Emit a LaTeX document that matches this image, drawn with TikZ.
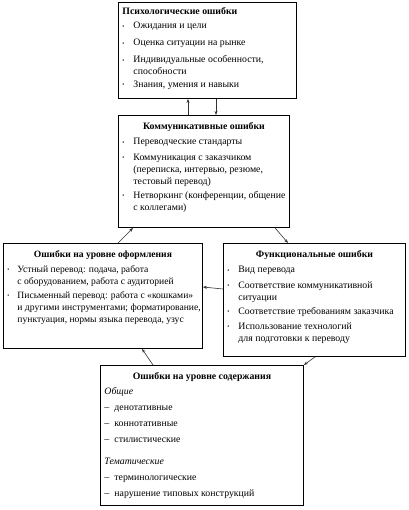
\documentclass[tikz,border=0pt]{standalone}
\usepackage{graphicx}
\usepackage{fontspec}
\setmainfont{Liberation Serif}
\usetikzlibrary{arrows.meta,calc}
\newlength\itemgap \setlength\itemgap{3.5pt}
\newlength\bulind \setlength\bulind{11pt}
\newcommand\bul[1]{\par\noindent\makebox[\bulind][l]{\raisebox{0.9pt}{\scalebox{0.6}{\textbullet}}}\parbox[t]{\dimexpr\linewidth-\bulind}{\raggedright #1}\par\vspace{\itemgap}}
\newcommand\dit[1]{\par\noindent\makebox[10pt][l]{–}#1\par\vspace{4pt}}
\newcommand\ttl[1]{\vspace*{7.5pt}{\centering\textbf{#1}\par}\vspace{3pt}}
\newcommand\mybox[6]{\node[box] (#1) at (#2pt,-#3pt) {\parbox[c][#5pt][t]{\dimexpr#4pt-8pt}{\fontsize{9.8}{12}\selectfont #6}};}
\tikzset{
  box/.style={draw, line width=0.9pt, anchor=north west, inner xsep=4pt, inner ysep=0pt, fill=white},
  arr/.style={line width=0.6pt, draw=black!80, -{Stealth[length=4pt,width=3pt]}}
}
\begin{document}
\begin{tikzpicture}[x=1pt,y=1pt]
\useasboundingbox (0,0) rectangle (408,-510);
\mybox{psych}{118}{2}{178}{96}{\setlength\itemgap{5pt}\vspace*{5.5pt}\textbf{Психологические ошибки}\par\vspace{2pt}
\bul{Ожидания и цели}
\bul{Оценка ситуации на рынке}
\bul{Индивидуальные особенности,\\ способности}
\bul{Знания, умения и навыки}}
\mybox{comm}{118}{115}{171}{112}{\ttl{Коммуникативные ошибки}
\bul{Переводческие стандарты}
\bul{Коммуникация с заказчиком\\ (переписка, интервью, резюме,\\ тестовый перевод)}
\bul{Нетворкинг (конференции, общение\\ с коллегами)}}
\mybox{form}{3}{243}{199}{105}{\fontsize{9.6}{12}\selectfont\setlength\bulind{10pt}\ttl{Ошибки на уровне оформления}
\bul{Устный перевод: подача, работа\\ с оборудованием, работа с аудиторией}
\bul{Письменный перевод: работа с «кошками»\\ \mbox{и другими инструментами; форматирование,}\\ пунктуация, нормы языка перевода, узус}}
\mybox{func}{223}{243}{182}{113}{\ttl{Функциональные ошибки}
\bul{Вид перевода}
\bul{Соответствие коммуникативной\\ ситуации}
\bul{Соответствие требованиям заказчика}
\bul{Использование технологий\\ для подготовки к переводу}}
\mybox{cont}{100}{365}{203}{140}{\ttl{Ошибки на уровне содержания}
\noindent\textit{Общие}\par\vspace{4pt}
\dit{денотативные}
\dit{коннотативные}
\dit{стилистические}
\vspace{5.5pt}\noindent\textit{Тематические}\par\vspace{4pt}
\dit{терминологические}
\dit{нарушение типовых конструкций}}
\draw[arr] ([xshift=70pt]comm.north west) -- ([xshift=70pt]psych.south west);
\draw[arr] ([xshift=98pt]psych.south west) -- ([xshift=98pt]comm.north west);
\draw[arr] ([xshift=115pt]form.north west) -- ([xshift=15pt]comm.south west);
\draw[arr] ([xshift=157pt]comm.south west) -- ([xshift=65pt]func.north west);
\draw[arr] ([yshift=-46pt]func.north west) -- ([yshift=-44pt]form.north east);
\draw[arr] ([xshift=53pt]cont.north west) -- ([xshift=139pt]form.south west);
\draw[arr] ([xshift=92pt]func.south west) -- (cont.north east);
\end{tikzpicture}
\end{document}
